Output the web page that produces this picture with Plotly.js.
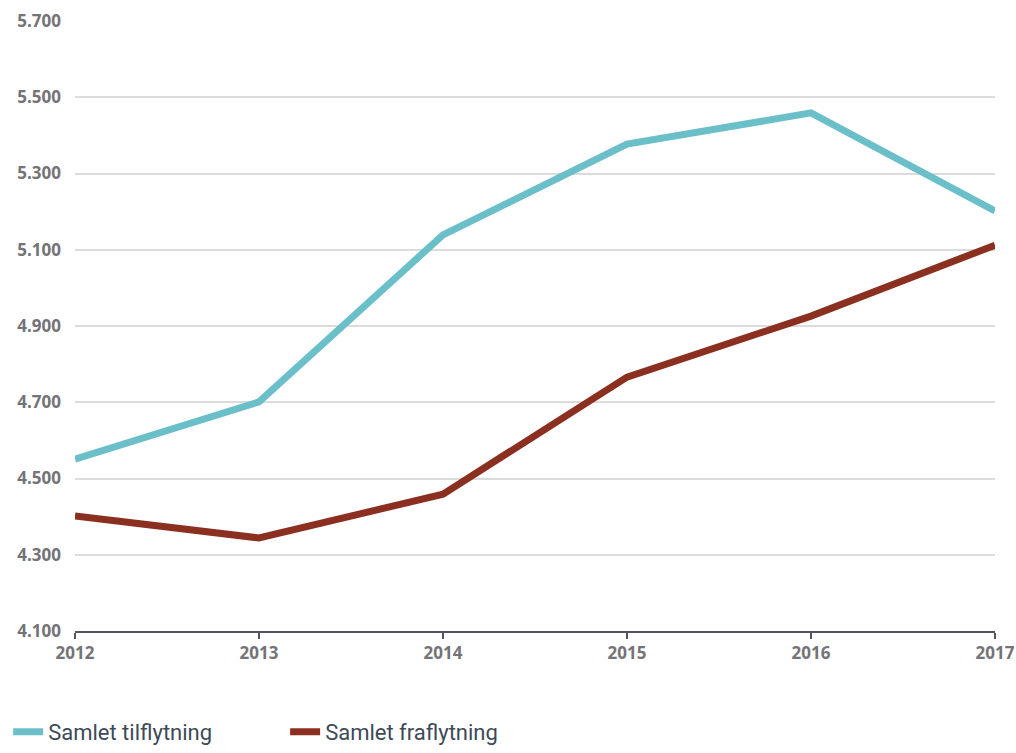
<!DOCTYPE html>
<html>
<head>
<meta charset="utf-8">
<script src="https://cdn.plot.ly/plotly-3.0.1.min.js"></script>
<style>html,body{margin:0;padding:0;background:#fff;}#chart{width:1016px;height:753px;}</style>
</head>
<body>
<div id="chart"></div>
<script>
const years = ['2012', '2013', '2014', '2015', '2016', '2017'];
const tilflytning = [4551, 4701, 5139, 5377, 5459, 5202];
const fraflytning = [4402, 4344, 4459, 4766, 4926, 5112];
const seriesNames = ['Samlet tilflytning', 'Samlet fraflytning'];
const yTicks = [4100, 4300, 4500, 4700, 4900, 5100, 5300, 5500, 5700];

const traces = [
  {x: years, y: tilflytning, name: seriesNames[0], type: 'scatter', mode: 'lines',
   line: {color: '#6bbfc9', width: 7}},
  {x: years, y: fraflytning, name: seriesNames[1], type: 'scatter', mode: 'lines',
   line: {color: '#8b3020', width: 7}}
];

const layout = {
  width: 1016, height: 753,
  margin: {l: 75, r: 21, t: 21, b: 122},
  paper_bgcolor: '#ffffff', plot_bgcolor: '#ffffff',
  separators: ',.',
  showlegend: true,
  legend: {
    orientation: 'h', xref: 'container', yref: 'container',
    x: 0.008, y: -0.024, xanchor: 'left', yanchor: 'bottom',
    entrywidth: 232, entrywidthmode: 'pixels',
    font: {family: 'Roboto, sans-serif', size: 22, color: '#3c4a57'}
  },
  xaxis: {
    type: 'category', range: [0, 5],
    showgrid: false, showline: true, linecolor: '#55555e', linewidth: 2,
    ticks: 'outside', ticklen: 6, tickwidth: 2, tickcolor: '#55555e',
    tickfont: {family: 'Open Sans, sans-serif', size: 17, color: '#737378', weight: 'bold'},
    zeroline: false, fixedrange: true
  },
  yaxis: {
    range: [4100, 5700], tickvals: yTicks, tickformat: ',d',
    showgrid: true, gridcolor: '#dcdcdc', gridwidth: 2,
    showline: false, zeroline: false, ticks: '',
    ticklabelstandoff: 13,
    tickfont: {family: 'Open Sans, sans-serif', size: 17, color: '#737378', weight: 'bold'},
    fixedrange: true
  }
};

Plotly.newPlot('chart', traces, layout, {displayModeBar: false, staticPlot: true});
</script>
</body>
</html>
